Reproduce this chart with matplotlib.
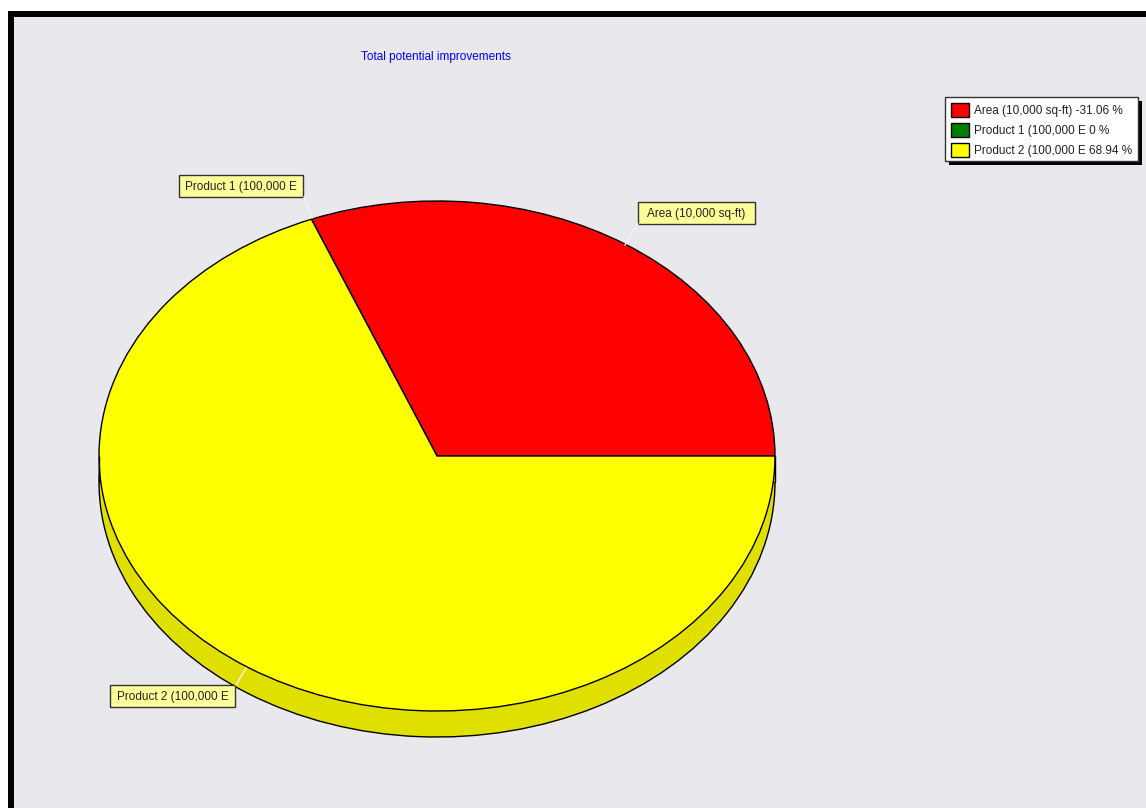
import numpy as np
import matplotlib
matplotlib.use("Agg")
import matplotlib.pyplot as plt
from matplotlib.patches import Rectangle

plt.rcParams['font.family'] = ['Liberation Sans', 'DejaVu Sans']

categories = ["Area (10,000 sq-ft)", "Product 1 (100,000 E", "Product 2 (100,000 E"]
values = [31.06, 0, 68.94]
legend_values = ["-31.06 %", "0 %", "68.94 %"]
colors = ["#ff0000", "#008000", "#ffff00"]
side_colors = ["#e0e000", "#e0e000", "#e0e000"]
title = "Total potential improvements"

W, H = 1146, 808
bg = "#e9e8ed"
depth = 26 / 255.0   # pie thickness in radius units
txt_size = 8.5

fig = plt.figure(figsize=(W / 100, H / 100), dpi=100, facecolor="white")

# pixel overlay, everything but the pie is placed in image coordinates
back = fig.add_axes([0, 0, 1, 1], zorder=0)
back.set_xlim(0, W)
back.set_ylim(H, 0)
back.axis("off")
back.add_patch(Rectangle((8, 11), W, H, fc="black", ec="none"))
back.add_patch(Rectangle((14, 17), W, H, fc=bg, ec="none"))

# pie axes, squashed so that the unit circle becomes the ellipse
cx, cy, rx, ry = 437, 456, 338, 255
pie_ax = fig.add_axes([(cx - rx) / W, 1 - (cy + ry) / H, 2 * rx / W, 2 * ry / H], zorder=1)
pie_ax.pie(values, colors=side_colors, center=(0, -depth), radius=1, startangle=0,
           wedgeprops={"edgecolor": "black", "linewidth": 1.0})
pie_ax.add_patch(Rectangle((-1, -depth), 2, depth, fc=side_colors[0], ec="none"))
pie_ax.vlines([-1, 1], -depth, 0, color="black", lw=1.0)
pie_ax.pie(values, colors=colors, radius=1, startangle=0,
           wedgeprops={"edgecolor": "black", "linewidth": 1.0})
pie_ax.set_aspect("auto")
pie_ax.set_xlim(-1, 1)
pie_ax.set_ylim(-1, 1)
for c in pie_ax.patches + pie_ax.collections:
    c.set_clip_on(False)
pie_ax.patch.set_visible(False)

# overlay for labels and legend
top = fig.add_axes([0, 0, 1, 1], zorder=2)
top.set_xlim(0, W)
top.set_ylim(H, 0)
top.axis("off")

top.text(436, 57, title, color="#0000ff", fontsize=txt_size, ha="center", va="center")

# callout labels
boxes = [(638, 202, 117, 22), (179, 175, 124, 22), (110, 685, 125, 22)]
leaders = [((638, 224), (625, 245)), ((304, 197), (312, 218)), ((236, 685), (246, 668))]
for name, (x, y, w, h), (p0, p1) in zip(categories, boxes, leaders):
    top.plot([p0[0], p1[0]], [p0[1], p1[1]], color="#f4f4f4", lw=1)
    top.add_patch(Rectangle((x, y), w, h, fc="#ffff99", ec="#333333", lw=1))
    top.text(x + w / 2, y + h / 2 + 1, name, fontsize=txt_size, color="#222222", ha="center", va="center")

# legend box with its hard shadow
top.add_patch(Rectangle((949, 101), 193, 64, fc="black", ec="none"))
top.add_patch(Rectangle((945, 97), 193, 64, fc="white", ec="#333333", lw=1))
for i, (name, val, col) in enumerate(zip(categories, legend_values, colors)):
    yc = 110 + 20 * i
    top.add_patch(Rectangle((951, yc - 7), 18, 14, fc=col, ec="black", lw=1))
    top.text(974, yc + 1, name + " " + val, fontsize=txt_size, color="#222222", ha="left", va="center")

fig.savefig("out.png", dpi=100, facecolor="white")
